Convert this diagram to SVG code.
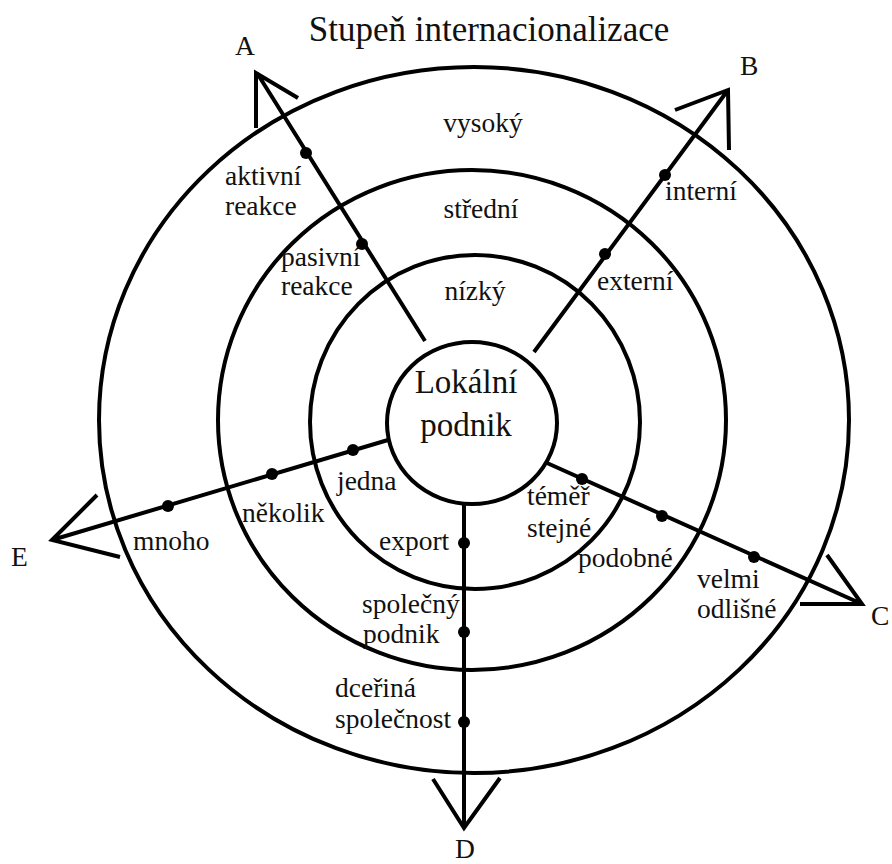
<svg xmlns="http://www.w3.org/2000/svg" width="892" height="864" viewBox="0 0 892 864">
<style>
.ring{fill:none;stroke:#000;stroke-width:4}
.ln{fill:none;stroke:#000;stroke-width:4;stroke-linejoin:miter;stroke-linecap:butt}
.dot{fill:#000}
text{font-family:"Liberation Serif","Times New Roman",serif;fill:#111;font-size:27.5px}
.big{font-size:33px}
.title{font-size:35px}
</style>
<rect width="892" height="864" fill="#fff"/>
<g id="title"><text class="title" x="489" y="41" text-anchor="middle" font-family="Liberation Serif, serif">Stupeň internacionalizace</text></g>
<g id="ring-outer"><ellipse class="ring" cx="474" cy="420" rx="375" ry="353"/><text x="483" y="132" text-anchor="middle">vysoký</text></g>
<g id="ring-third"><ellipse class="ring" cx="472" cy="420" rx="254" ry="250"/><text x="481" y="218" text-anchor="middle">střední</text></g>
<g id="ring-second"><ellipse class="ring" cx="475" cy="422" rx="165" ry="167"/><text x="475" y="300" text-anchor="middle">nízký</text></g>
<g id="connectors">
<path class="ln" d="M425,341 L257,73 M256,128 L256,73 L298,98"/>
<path class="ln" d="M534,352 L728,90 M675,110 L728,90 L729,150"/>
<path class="ln" d="M388,440 L52,540 M97,495 L52,540 L120,557"/>
<path class="ln" d="M547,463 L862,604 M827,555 L862,604 L800,604"/>
<path class="ln" d="M464,505 L464,828 M433,779 L464,828 L500,778"/>
</g>
<g id="node-center"><ellipse class="ring" cx="472" cy="423" rx="85" ry="81" fill="#fff"/><text class="big" x="466" y="393" text-anchor="middle">Lokální</text><text class="big" x="466" y="436" text-anchor="middle">podnik</text></g>
<g id="axis-A">
<circle class="dot" cx="306" cy="153" r="6"/><circle class="dot" cx="362" cy="244" r="6"/>
<text x="225" y="185">aktivní</text><text x="225" y="215">reakce</text>
<text x="281" y="266">pasivní</text><text x="281" y="295">reakce</text>
<text x="235" y="55">A</text>
</g>
<g id="axis-B">
<circle class="dot" cx="665" cy="175" r="6"/><circle class="dot" cx="605" cy="254" r="6"/>
<text x="665" y="200">interní</text><text x="597" y="290">externí</text>
<text x="740" y="75">B</text>
</g>
<g id="axis-C">
<circle class="dot" cx="582" cy="479" r="6"/><circle class="dot" cx="662" cy="516" r="6"/><circle class="dot" cx="754" cy="557" r="6"/>
<text x="527" y="505">téměř</text><text x="527" y="537">stejné</text>
<text x="578" y="567">podobné</text>
<text x="697" y="588">velmi</text><text x="697" y="618">odlišné</text>
<text x="871" y="625">C</text>
</g>
<g id="axis-D">
<circle class="dot" cx="464" cy="543" r="6"/><circle class="dot" cx="464" cy="632" r="6"/><circle class="dot" cx="464" cy="722" r="6"/>
<text x="379" y="550">export</text>
<text x="362" y="613">společný</text><text x="363" y="643">podnik</text>
<text x="335" y="697">dceřiná</text><text x="335" y="728">společnost</text>
<text x="455" y="858">D</text>
</g>
<g id="axis-E">
<circle class="dot" cx="168" cy="506" r="6"/><circle class="dot" cx="272" cy="474" r="6"/><circle class="dot" cx="353" cy="450" r="6"/>
<text x="133" y="550">mnoho</text><text x="242" y="522">několik</text><text x="337" y="490">jedna</text>
<text x="11" y="566">E</text>
</g>
</svg>
